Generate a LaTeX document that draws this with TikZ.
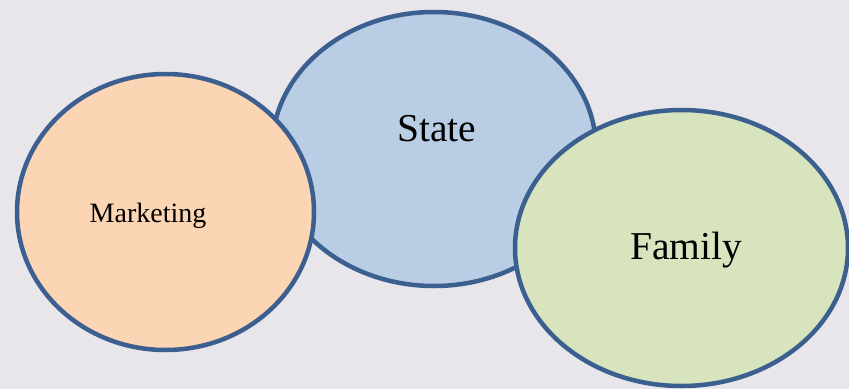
\documentclass[tikz,border=0pt]{standalone}
\usepackage{fontspec}
\setmainfont{Liberation Serif}
\usepackage{xcolor}
\definecolor{rimBlue}{HTML}{3B5F8F}
\definecolor{paperGray}{HTML}{E8E6EA}
\definecolor{marketingColor}{HTML}{FCD5B4}
\definecolor{stateColor}{HTML}{B9CDE5}
\definecolor{familyColor}{HTML}{D7E4BD}
\usetikzlibrary{shapes.geometric,positioning,calc}
\tikzset{
  bubble/.style={
    ellipse,
    draw=rimBlue,
    line width=4.5pt,
    inner sep=0pt,
    outer sep=0pt
 },
  bigText/.style={
    anchor=base,
    font=\fontsize{39.5}{47}\selectfont
 },
  smallText/.style={
    anchor=base,
    font=\fontsize{28}{34}\selectfont
 }
}
\begin{document}
\begin{tikzpicture}[x=1pt,y=-1pt]

            % Page and background
            \fill[paperGray] (0,0) rectangle (849,389);
            \useasboundingbox (0,0) rectangle (849,389);

            % Middle bubble first, the other two lie over it
            \node[bubble, fill=stateColor, minimum width=324pt, minimum height=274pt] (state) at (434,149) {};
            \node[bubble, fill=marketingColor, minimum width=297pt, minimum height=276pt] (marketing) at (165.5,212) {};
            \node[bubble, fill=familyColor, minimum width=333pt, minimum height=276pt] (family) at (681.5,248) {};

            % Labels
            \node[bigText] (stateLabel) at ([shift={(3,-7.5)}]state.center) {State};
            \node[smallText] (marketingLabel) at ([shift={(-17.5,10)}]marketing.center) {Marketing};
            \node[bigText] (familyLabel) at ([shift={(4.5,11)}]family.center) {Family};

        \end{tikzpicture}
\end{document}
